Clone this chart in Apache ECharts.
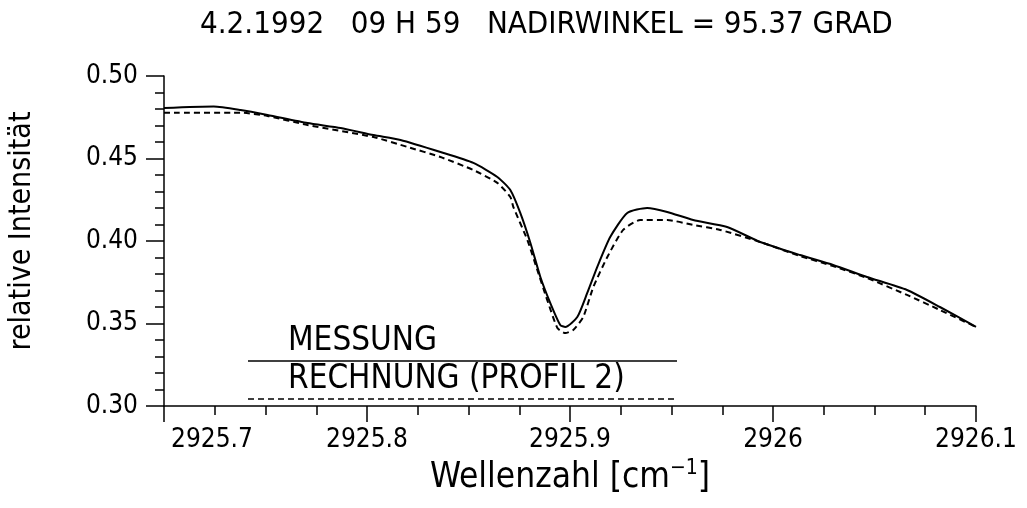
<!DOCTYPE html>
<html>
<head>
<meta charset="utf-8">
<script src="https://cdn.jsdelivr.net/npm/echarts@6/dist/echarts.min.js"></script>
<style>
  html, body { margin: 0; padding: 0; background: #fff; }
  #main { width: 1027px; height: 508px; }
</style>
</head>
<body>
<div id="main"></div>
<script>
// Messung (solid)
var waveMess = [2925.700, 2925.7245, 2925.7377, 2925.7510, 2925.7707, 2925.7870, 2925.8032, 2925.8165,
  2925.8362, 2925.8524, 2925.8642, 2925.8706, 2925.8755, 2925.8805, 2925.8854, 2925.8903, 2925.8952,
  2925.8977, 2925.9036, 2925.9085, 2925.9134, 2925.9198, 2925.9282, 2925.9380, 2925.9479, 2925.9607,
  2925.9774, 2925.9937, 2926.0133, 2926.0296, 2926.0463, 2926.0660, 2926.0822, 2926.1000];
var intMess = [0.4806, 0.4815, 0.4794, 0.4764, 0.4715, 0.4685, 0.4642, 0.4612,
  0.4539, 0.4473, 0.4388, 0.4309, 0.4170, 0.3988, 0.3782, 0.3624, 0.3491,
  0.3479, 0.3539, 0.3685, 0.3842, 0.4024, 0.4170, 0.4200, 0.4176, 0.4127,
  0.4085, 0.3994, 0.3915, 0.3855, 0.3782, 0.3703, 0.3600, 0.3479];

// Rechnung (Profil 2), dashed
var waveRech = [2925.700, 2925.7377, 2925.7510, 2925.7707, 2925.8032, 2925.8199, 2925.8362, 2925.8524,
  2925.8642, 2925.8706, 2925.8721, 2925.8790, 2925.8839, 2925.8888, 2925.8938, 2925.8977, 2925.9016,
  2925.9065, 2925.9115, 2925.9184, 2925.9262, 2925.9346, 2925.9479, 2925.9607, 2925.9740, 2925.9937,
  2926.0133, 2926.0296, 2926.0463, 2926.0660, 2926.0822, 2926.1000];
var intRech = [0.4778, 0.4778, 0.4758, 0.4703, 0.4630, 0.4570, 0.4509, 0.4430,
  0.4352, 0.4267, 0.4206, 0.4006, 0.3824, 0.3642, 0.3473, 0.3442, 0.3461,
  0.3539, 0.3721, 0.3903, 0.4067, 0.4127, 0.4127, 0.4097, 0.4067, 0.3994,
  0.3909, 0.3848, 0.3776, 0.3673, 0.3582, 0.3479];

var legendNames = ['MESSUNG', 'RECHNUNG (PROFIL 2)'];
var titleText = '4.2.1992   09 H 59   NADIRWINKEL = 95.37 GRAD';

var FONT = '"DejaVu Sans Condensed", "Liberation Sans Narrow", sans-serif';

function pairs(xs, ys) {
  return xs.map(function (x, i) { return [x, ys[i]]; });
}

var myChart = echarts.init(document.getElementById('main'));

myChart.setOption({
  backgroundColor: '#fff',
  animation: false,
  textStyle: { fontFamily: FONT, color: '#000' },
  title: {
    text: titleText,
    left: 195,
    top: 4,
    textStyle: { fontFamily: FONT, fontSize: 31, fontWeight: 'normal', color: '#000' }
  },
  grid: { left: 164, right: 51, top: 76, bottom: 102, outerBoundsMode: 'none' },
  xAxis: {
    type: 'value',
    min: 2925.7,
    max: 2926.1,
    interval: 0.1,
    name: '{a|Wellenzahl [cm}{s|−1}{a|]}',
    nameLocation: 'middle',
    nameGap: 43,
    nameTextStyle: {
      rich: {
        a: { fontFamily: FONT, fontSize: 35, color: '#000', lineHeight: 40 },
        s: { fontFamily: FONT, fontSize: 21, color: '#000', verticalAlign: 'top', padding: [0, 0, 16, 0] }
      }
    },
    axisLine: { onZero: false, lineStyle: { color: '#000', width: 1.5 } },
    axisTick: { inside: false, length: 16, lineStyle: { color: '#000', width: 1.5 } },
    minorTick: { show: true, splitNumber: 4, length: 9, lineStyle: { color: '#000', width: 1.5 } },
    splitLine: { show: false },
    axisLabel: {
      margin: 21,
      fontFamily: FONT,
      fontSize: 26,
      color: '#000',
      formatter: function (v) {
        var s = String(Math.round(v * 10) / 10);
        return Math.abs(v - 2925.7) < 1e-6 ? '{f|' + s + '}' : s;
      },
      rich: { f: { fontFamily: FONT, fontSize: 26, color: '#000', padding: [0, 0, 0, 96] } }
    }
  },
  yAxis: {
    type: 'value',
    min: 0.3,
    max: 0.5,
    interval: 0.05,
    name: 'relative Intensität',
    nameLocation: 'middle',
    nameGap: 127,
    nameRotate: 90,
    nameTextStyle: { fontFamily: FONT, fontSize: 30, color: '#000', padding: [0, 0, 0, 20] },
    axisLine: { onZero: false, lineStyle: { color: '#000', width: 1.5 } },
    axisTick: { inside: false, length: 18, lineStyle: { color: '#000', width: 1.5 } },
    minorTick: { show: true, splitNumber: 5, length: 9, lineStyle: { color: '#000', width: 1.5 } },
    splitLine: { show: false },
    axisLabel: {
      margin: 26,
      fontFamily: FONT,
      fontSize: 26,
      color: '#000',
      formatter: function (v) { return v.toFixed(2); }
    }
  },
  series: [
    {
      name: legendNames[0],
      type: 'line',
      data: pairs(waveMess, intMess),
      showSymbol: false,
      smooth: 0.2,
      lineStyle: { color: '#000', width: 2 }
    },
    {
      name: legendNames[1],
      type: 'line',
      data: pairs(waveRech, intRech),
      showSymbol: false,
      smooth: 0.2,
      lineStyle: { color: '#000', width: 2, type: [6, 4] }
    }
  ],
  graphic: [
    { type: 'text', left: 288, top: 325, style: { text: legendNames[0], font: '33px ' + FONT, fill: '#000' } },
    { type: 'line', shape: { x1: 248, y1: 361, x2: 677, y2: 361 }, style: { stroke: '#000', lineWidth: 1.5 } },
    { type: 'text', left: 288, top: 363, style: { text: legendNames[1], font: '33px ' + FONT, fill: '#000' } },
    { type: 'line', shape: { x1: 248, y1: 399, x2: 677, y2: 399 }, style: { stroke: '#000', lineWidth: 1.5, lineDash: [6, 4] } }
  ]
});
</script>
</body>
</html>
